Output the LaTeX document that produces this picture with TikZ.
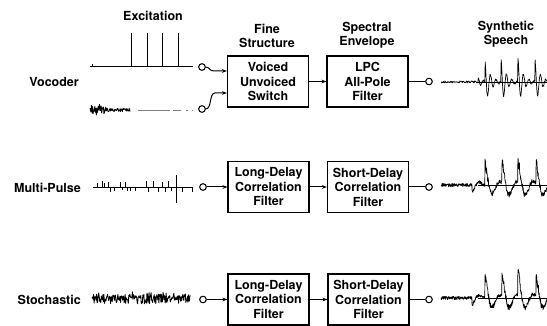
\documentclass[tikz,border=0pt]{standalone}
\usepackage{fontspec}
\setmainfont{TeX Gyre Heros}
\usetikzlibrary{arrows.meta}

\begin{document}
\begin{tikzpicture}[x=1pt,y=-1pt,
  txt/.style={font=\fontsize{12.5}{14.5}\selectfont\bfseries, align=center, inner sep=0pt},
  blk/.style={txt, draw, line width=1.1pt, minimum width=81pt, minimum height=51pt},
  port/.style={circle, draw, line width=0.9pt, minimum size=6.5pt, inner sep=0pt, fill=white},
  wire/.style={line width=1pt},
  arr/.style={wire, -{Stealth[length=5pt,width=3.6pt]}},
  wave/.style={line width=0.7pt, line join=round},
  declare function={
    sp(\t)=(\t>-0.1)*exp(-max(\t,0)/5)*cos(65.45*max(\t,0));
    lp(\t)=(\t>-0.1)*exp(-max(\t,0)/8)*cos(22.5*max(\t,0));
    ev(\t)=(\t>-0.1)*exp(-max(\t,0)/7);
  }]

\useasboundingbox (0,0) rectangle (547,326);
\pgfmathsetseed{123}

% column headings
\node[txt] (hexc) at (153,16) {Excitation};
\node[txt] (hfine) at (267,36) {Fine\\Structure};
\node[txt] (hspec) at (367,35) {Spectral\\Envelope};
\node[txt] (hsyn) at (506,34) {Synthetic\\Speech};

% row labels
\node[txt, anchor=east] (rvoc) at (79,82) {Vocoder};
\node[txt, anchor=east] (rmp) at (81,188) {Multi-Pulse};
\node[txt, anchor=east] (rst) at (81,300) {Stochastic};

% filter blocks
\node[blk] (vus) at (268,81.5) {Voiced\\Unvoiced\\Switch};
\node[blk] (lpc) at (367.5,81.5) {LPC\\All-Pole\\Filter};
\node[blk] (ld2) at (268.5,187) {Long-Delay\\Correlation\\Filter};
\node[blk] (sd2) at (368,187) {Short-Delay\\Correlation\\Filter};
\node[blk] (ld3) at (268.5,299.5) {Long-Delay\\Correlation\\Filter};
\node[blk] (sd3) at (368.5,299.5) {Short-Delay\\Correlation\\Filter};

% input and output terminals
\node[port] (pv) at (202,67) {};
\node[port] (pu) at (202,109) {};
\node[port] (pm) at (203,187) {};
\node[port] (ps) at (203,299.5) {};
\node[port] (o1) at (429,81.5) {};
\node[port] (o2) at (429,187) {};
\node[port] (o3) at (429,299.5) {};

% switch inputs
\draw[arr] (pv.east) .. controls (210,67) and (209,71) .. (214,71) -- (vus.west |- 0,71);
\draw[arr] (pu.east) .. controls (212,109) and (209,93) .. (215,93) -- (vus.west |- 0,93);

% signal chain
\draw[arr] (vus) -- (lpc);
\draw[wire] (lpc) -- (o1);
\draw[arr] (pm) -- (ld2);
\draw[arr] (ld2) -- (sd2);
\draw[wire] (sd2) -- (o2);
\draw[arr] (ps) -- (ld3);
\draw[arr] (ld3) -- (sd3);
\draw[wire] (sd3) -- (o3);

% redraw terminals over the wires
\foreach \n in {pv,pu,pm,ps,o1,o2,o3} \node[port] at (\n) {};

% voiced excitation: periodic pulse train
\draw[line width=0.7pt] (90,66) -- (193,66);
\draw[line width=0.7pt] (92,66) -- (92,64.5);
\foreach \p in {131,147,162,178} \draw[line width=0.9pt] (\p,66) -- (\p,33);

% unvoiced excitation: noise burst
\draw[wave, line width=0.85pt] plot[domain=90:130, samples=90] (\x, {110 + (\x<106)*4.5*rand + 1.8*rand});
\draw[gray, line width=0.5pt, dash pattern=on 32pt off 3pt on 8pt off 5pt on 1.5pt off 4pt on 1pt] (138,110) -- (192,110);

% multi-pulse excitation
\draw[line width=0.7pt] (93,187) -- (192,187);
\foreach \p/\h in {97/-4,102/-6,104/-4,108/-5,110/5,114/4,120/-5,122/3,125/-5,127/4,130/4,135/4,
                   146/-6,148/5,153/-6,158/5,162/-5,165/5,168/-6,171/4,176/-12,176/16,182/5,192/5}
  \draw[line width=0.8pt] (\p,187) -- (\p,187+\h);

% stochastic excitation
\draw[wave, line width=0.85pt] plot[domain=92:190, samples=190] (\x, {299 + 4.8*rand - 3*(rand>0.7)});

% synthetic speech, vocoder
\draw[line width=0.4pt] (478,82) -- (547,82);
\draw[wave] plot[domain=441:547, samples=260]
  (\x, {82 + 1.1*rand - 5*sp(\x-478) - 23*sp(\x-485) - 23*sp(\x-501) - 23*sp(\x-518) - 23*sp(\x-535)});

% synthetic speech, multi-pulse
\draw[line width=0.4pt] (478,185) -- (547,185);
\draw[wave] plot[domain=441:547, samples=420]
  (\x, {185 + 1.6*rand + 7*lp(\x-472) - 22*lp(\x-485) - 22*lp(\x-502) - 22*lp(\x-518) - 22*lp(\x-536)
        + 5*rand*(ev(\x-485)+ev(\x-502)+ev(\x-518)+ev(\x-536))});

% synthetic speech, stochastic
\draw[line width=0.4pt] (478,298) -- (547,298);
\draw[wave] plot[domain=441:547, samples=420]
  (\x, {298 + 1.6*rand + 7*lp(\x-472) - 22*lp(\x-485) - 22*lp(\x-502) - 22*lp(\x-518) - 22*lp(\x-536)
        + 5*rand*(ev(\x-485)+ev(\x-502)+ev(\x-518)+ev(\x-536))});

\end{tikzpicture}
\end{document}
